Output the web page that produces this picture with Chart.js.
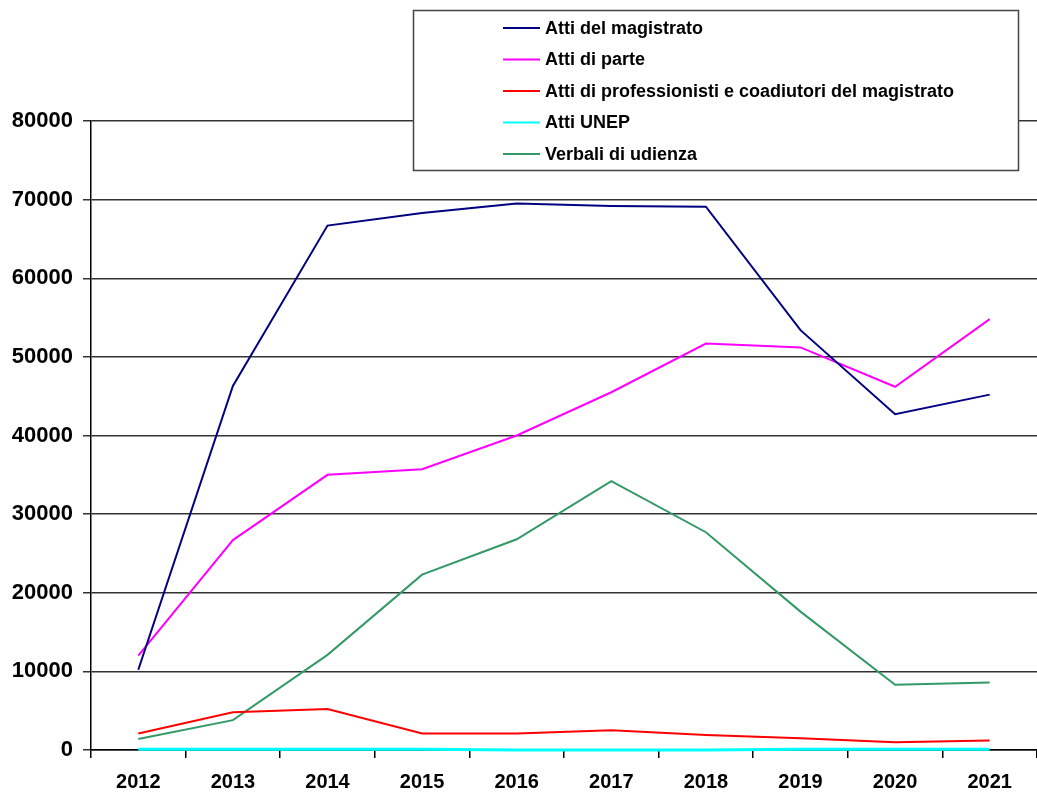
<!DOCTYPE html>
<html>
<head>
<meta charset="utf-8">
<script src="https://cdn.jsdelivr.net/npm/chart.js@4"></script>
<style>
    html, body { margin: 0; padding: 0; background: #fff; }
    #wrap { width: 1037px; height: 797px; }
</style>
</head>
<body>
<div id="wrap"><canvas id="mainChart" width="1037" height="797"></canvas></div>
<script>
const years = ["2012", "2013", "2014", "2015", "2016", "2017", "2018", "2019", "2020", "2021"];

const attiMagistrato = [10200, 46300, 66700, 68300, 69500, 69200, 69100, 53400, 42700, 45200];
const attiParte = [12000, 26700, 35000, 35700, 40000, 45500, 51700, 51200, 46200, 54800];
const attiProfessionisti = [2100, 4800, 5200, 2100, 2100, 2500, 1900, 1500, 1000, 1200];
const attiUnep = [100, 100, 100, 100, 0, 0, 0, 100, 100, 100];
const verbaliUdienza = [1400, 3800, 12100, 22300, 26800, 34200, 27700, 17600, 8300, 8600];

const FONT = "'Liberation Sans', Arial, sans-serif";

function series(label, data, color, width) {
    return {
        label: label,
        data: data,
        borderColor: color,
        backgroundColor: color,
        borderWidth: width || 2,
        pointRadius: 0,
        tension: 0,
        fill: false,
        clip: false,
    };
}

// legend box drawn over the plot, like the original
const boxLegend = {
    id: "boxLegend",
    afterDraw(chart) {
        const c = chart.ctx;
        c.save();
        c.fillStyle = "#fff";
        c.fillRect(413, 10, 605, 160);
        c.strokeStyle = "#444";
        c.lineWidth = 1.5;
        c.strokeRect(413.5, 10.5, 605, 160);
        c.font = "bold 18px " + FONT;
        c.textBaseline = "middle";
        chart.data.datasets.forEach((ds, i) => {
            const y = 28 + i * 31.5;
            c.strokeStyle = ds.borderColor;
            c.lineWidth = 2;
            c.beginPath();
            c.moveTo(503, y);
            c.lineTo(540, y);
            c.stroke();
            c.fillStyle = "#000";
            c.fillText(ds.label, 545, y + 1);
        });
        c.restore();
    },
};

const ctx = document.getElementById("mainChart").getContext("2d");
new Chart(ctx, {
    type: "line",
    data: {
        labels: years,
        datasets: [
            series("Atti del magistrato", attiMagistrato, "#000080"),
            series("Atti di parte", attiParte, "#ff00ff"),
            series("Atti di professionisti e coadiutori del magistrato", attiProfessionisti, "#ff0000"),
            series("Atti UNEP", attiUnep, "#00ffff", 3),
            series("Verbali di udienza", verbaliUdienza, "#339966"),
        ],
    },
    options: {
        responsive: false,
        animation: false,
        layout: { padding: { top: 121, right: 0, left: 0, bottom: 0 } },
        plugins: {
            legend: { display: false },
            tooltip: { enabled: false },
        },
        scales: {
            x: {
                offset: true,
                grid: {
                    offset: true,
                    drawOnChartArea: false,
                    color: "#000",
                    lineWidth: 1.5,
                    tickLength: 8,
                },
                border: { color: "#000", width: 1.5 },
                ticks: {
                    color: "#000",
                    padding: 12,
                    maxRotation: 0,
                    font: { family: FONT, size: 20, weight: "bold" },
                },
                afterFit(scale) { scale.height = 47; },
            },
            y: {
                min: 0,
                max: 80000,
                grid: {
                    color: "#333",
                    lineWidth: 1.5,
                    tickLength: 8,
                },
                border: { color: "#000", width: 1.5 },
                ticks: {
                    stepSize: 10000,
                    color: "#000",
                    padding: 10,
                    font: { family: FONT, size: 22, weight: "bold" },
                    callback: (v) => String(v),
                },
                afterFit(scale) { scale.width = 91; },
            },
        },
    },
    plugins: [boxLegend],
});
</script>
</body>
</html>
